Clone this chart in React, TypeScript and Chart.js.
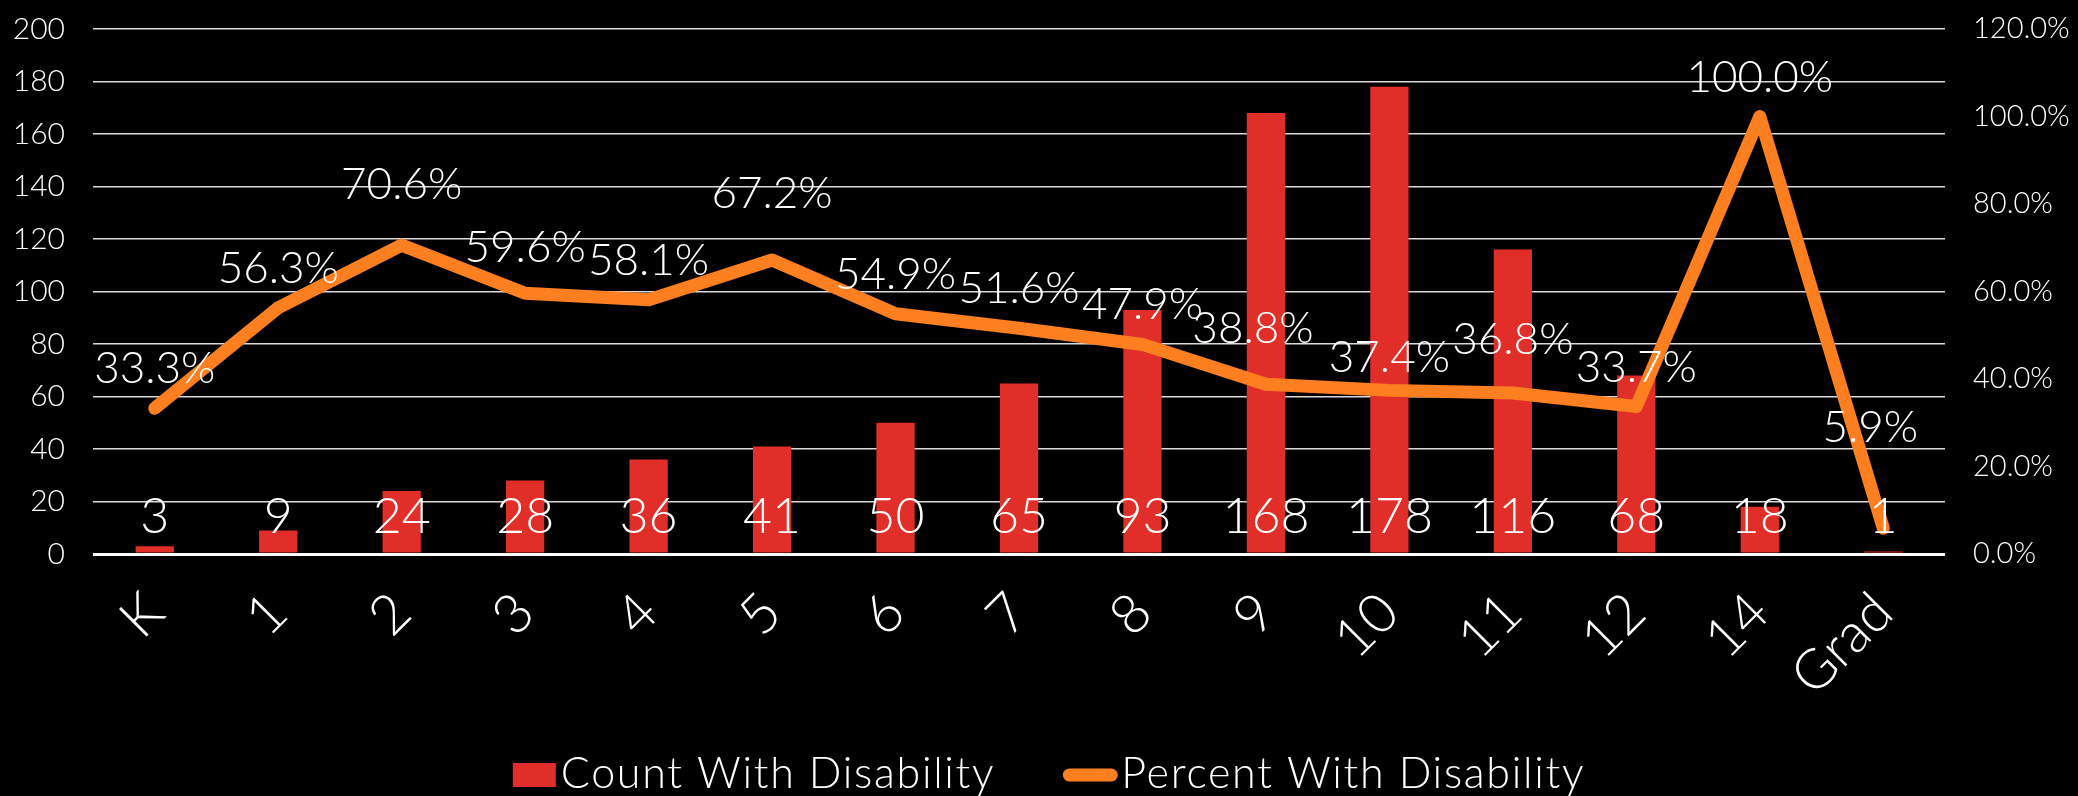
import React, { useEffect, useRef } from 'react';
import { Chart, registerables } from 'chart.js';

Chart.register(...registerables);

// ---- Data ----
const grades = ['K', '1', '2', '3', '4', '5', '6', '7', '8', '9', '10', '11', '12', '14', 'Grad'];
const countWithDisability = [3, 9, 24, 28, 36, 41, 50, 65, 93, 168, 178, 116, 68, 18, 1];
const percentWithDisability = [33.3, 56.3, 70.6, 59.6, 58.1, 67.2, 54.9, 51.6, 47.9, 38.8, 37.4, 36.8, 33.7, 100.0, 5.9];
const countAxis = { min: 0, max: 200, step: 20 };
const percentAxis = { min: 0, max: 120, step: 20 };
const seriesNames = ['Count With Disability', 'Percent With Disability'];

// ---- Styles ----
const FONT = 'Lato, "Open Sans", sans-serif';
const WEIGHT = '300';
const BAR_COLOR = '#E12E28';
const LINE_COLOR = '#FD7F1F';
const TEXT_COLOR = '#FFFFFF';
// manual nudges of the percent labels (extra lift / horizontal shift, px), as placed in the original
const pctLabelLift = [0, 0, 21, 6, 0, 27, 0, 0, 0, 16, -7, 14, 0, 0, 61];
const pctLabelShift = [0, 0, 0, 0, 0, 0, 0, 0, 0, -13, 0, 0, 0, 0, -13];

const W = 2078;
const H = 796;

const bgPlugin = {
  id: 'bg',
  beforeDraw(chart: any) {
    const { ctx } = chart;
    ctx.save();
    ctx.fillStyle = '#000';
    ctx.fillRect(0, 0, chart.width, chart.height);
    ctx.restore();
  },
};

const labelPlugin = {
  id: 'valueLabels',
  afterDatasetsDraw(chart: any) {
    const { ctx } = chart;
    const yScale = chart.scales.y;
    const base = yScale.getPixelForValue(0);
    ctx.save();
    ctx.fillStyle = TEXT_COLOR;
    ctx.textAlign = 'center';
    ctx.textBaseline = 'alphabetic';
    // bar labels (inside base)
    ctx.font = `${WEIGHT} 50px ${FONT}`;
    const barMeta = chart.getDatasetMeta(0);
    barMeta.data.forEach((el: any, i: number) => {
      ctx.fillText(String(countWithDisability[i]), el.x, base - 21);
    });
    // line labels (above)
    ctx.font = `${WEIGHT} 44px ${FONT}`;
    const lineMeta = chart.getDatasetMeta(1);
    lineMeta.data.forEach((el: any, i: number) => {
      ctx.fillText(
        percentWithDisability[i].toFixed(1) + '%',
        el.x + (pctLabelShift[i] || 0),
        el.y - 25 - (pctLabelLift[i] || 0)
      );
    });
    ctx.restore();
  },
};

const legendPlugin = {
  id: 'customLegend',
  afterDraw(chart: any) {
    const { ctx } = chart;
    ctx.save();
    ctx.font = `${WEIGHT} 43px ${FONT}`;
    try {
      (ctx as any).letterSpacing = '1.7px';
    } catch (e) {
      /* ignore */
    }
    ctx.textBaseline = 'alphabetic';
    ctx.textAlign = 'left';
    const t1 = seriesNames[0];
    const t2 = seriesNames[1];
    const w1 = ctx.measureText(t1).width;
    const w2 = ctx.measureText(t2).width;
    const boxW = 43, boxH = 24, gapBox = 5, gapItems = 68, lineW = 54, gapLine = 4;
    const total = boxW + gapBox + w1 + gapItems + lineW + gapLine + w2;
    let x = 1049 - total / 2;
    const cy = 775;
    const baseline = 788;
    ctx.fillStyle = BAR_COLOR;
    ctx.fillRect(x, cy - boxH / 2, boxW, boxH);
    x += boxW + gapBox;
    ctx.fillStyle = TEXT_COLOR;
    ctx.fillText(t1, x, baseline);
    x += w1 + gapItems;
    ctx.strokeStyle = LINE_COLOR;
    ctx.lineWidth = 13;
    ctx.lineCap = 'round';
    ctx.beginPath();
    ctx.moveTo(x + 6, cy);
    ctx.lineTo(x + lineW - 6, cy);
    ctx.stroke();
    x += lineW + gapLine;
    ctx.fillStyle = TEXT_COLOR;
    ctx.fillText(t2, x, baseline);
    ctx.restore();
  },
};

const zeroPad = (s: any) => {
  s.paddingTop = 0;
  s.paddingBottom = 0;
  s.paddingLeft = 0;
  s.paddingRight = 0;
};

export default function App() {
  const ref = useRef<HTMLCanvasElement | null>(null);

  useEffect(() => {
    document.body.style.margin = '0';
    document.body.style.background = '#000';
    const canvas = ref.current;
    if (!canvas) return;
    const chart = new Chart(canvas, {
      type: 'bar',
      data: {
        labels: grades,
        datasets: [
          {
            type: 'bar',
            label: seriesNames[0],
            data: countWithDisability,
            backgroundColor: BAR_COLOR,
            borderWidth: 0,
            yAxisID: 'y',
            order: 2,
            categoryPercentage: 1,
            barPercentage: 0.31,
          } as any,
          {
            type: 'line',
            label: seriesNames[1],
            data: percentWithDisability,
            borderColor: LINE_COLOR,
            backgroundColor: LINE_COLOR,
            borderWidth: 13,
            borderCapStyle: 'round',
            borderJoinStyle: 'round',
            pointRadius: 0,
            pointHoverRadius: 0,
            tension: 0,
            yAxisID: 'y1',
            order: 1,
          } as any,
        ],
      },
      options: {
        responsive: false,
        animation: false,
        maintainAspectRatio: false,
        layout: { padding: { top: 29, left: 0, right: 0, bottom: 60 } },
        plugins: {
          legend: { display: false },
          tooltip: { enabled: false },
        },
        scales: {
          x: {
            offset: true,
            grid: { display: false, drawTicks: false },
            border: { display: false },
            ticks: {
              color: TEXT_COLOR,
              font: { family: FONT, size: 55, weight: WEIGHT as any },
              minRotation: 45,
              maxRotation: 45,
              padding: 26,
              autoSkip: false,
            },
            afterFit: (s: any) => {
              s.height = H - 60 - 554;
              zeroPad(s);
            },
          },
          y: {
            position: 'left',
            min: countAxis.min,
            max: countAxis.max,
            ticks: {
              stepSize: countAxis.step,
              color: TEXT_COLOR,
              font: { family: FONT, size: 30, weight: WEIGHT as any },
              padding: 28,
            },
            grid: {
              drawTicks: false,
              color: (c: any) => (c.tick && c.tick.value === 0 ? '#FFFFFF' : '#D9D9D9'),
              lineWidth: (c: any) => (c.tick && c.tick.value === 0 ? 3 : 1.5),
            },
            border: { display: false },
            afterFit: (s: any) => {
              s.width = 93;
              zeroPad(s);
            },
          },
          y1: {
            position: 'right',
            min: percentAxis.min,
            max: percentAxis.max,
            ticks: {
              stepSize: percentAxis.step,
              color: TEXT_COLOR,
              font: { family: FONT, size: 29, weight: WEIGHT as any },
              padding: 28,
              callback: (v: any) => Number(v).toFixed(1) + '%',
            },
            grid: { display: false, drawTicks: false },
            border: { display: false },
            afterFit: (s: any) => {
              s.width = W - 1945;
              zeroPad(s);
            },
          },
        },
      },
      plugins: [bgPlugin, labelPlugin, legendPlugin],
    });
    return () => chart.destroy();
  }, []);

  return (
    <div style={{ width: W, height: H, background: '#000' }}>
      <canvas ref={ref} width={W} height={H} style={{ display: 'block', width: W, height: H }} />
    </div>
  );
}
